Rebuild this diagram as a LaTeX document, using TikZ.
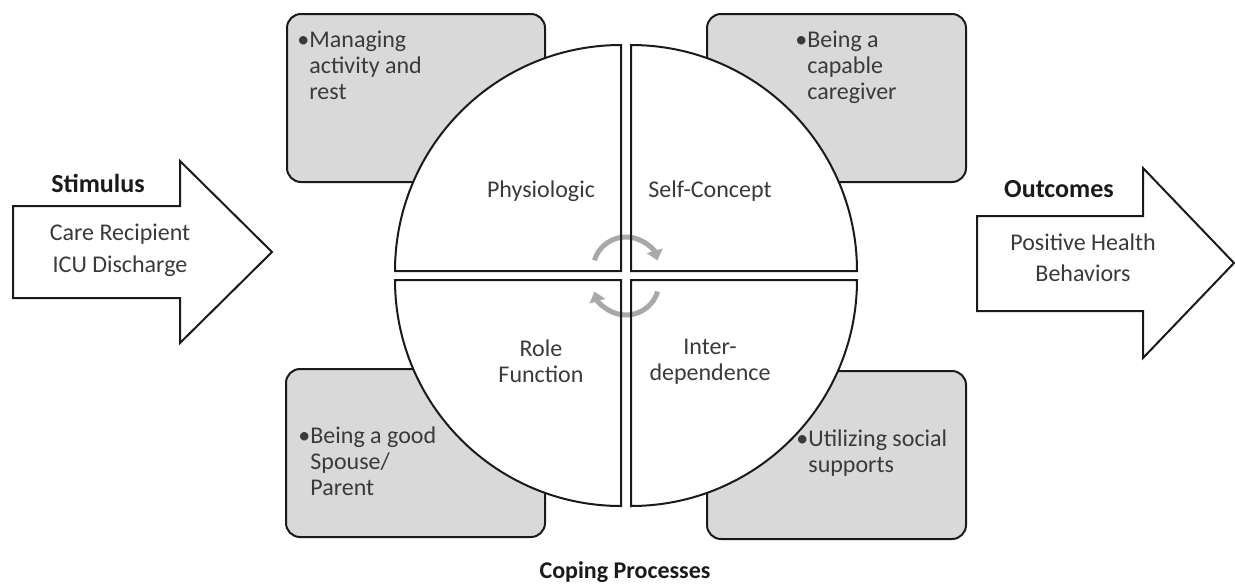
\documentclass[tikz,border=0pt]{standalone}
\usepackage{fontspec}
\setmainfont{Carlito}
\usepackage{tikz}
\usetikzlibrary{arrows.meta}
\usepackage{xcolor}
\definecolor{royInk}{HTML}{1A1A1A}
\definecolor{royText}{HTML}{3A3A3A}
\definecolor{royBox}{HTML}{D9D9D9}
\definecolor{royCycle}{HTML}{A8A8A8}
\newcommand{\bala}{\llap{\textbullet}}

\begin{document}
\begin{tikzpicture}[x=0.5pt, y=-0.5pt,
    caja/.style={draw=royInk, fill=royBox, line width=1pt, rounded corners=7pt},
    modo/.style={text=royText, font=\fontsize{12}{13}\selectfont, inner sep=0pt, align=center},
    punto/.style={text=royText, font=\fontsize{12}{13}\selectfont, inner sep=0pt, align=left, anchor=north west},
    titulo/.style={text=royInk, font=\fontsize{13}{15}\selectfont\bfseries, inner sep=0pt, anchor=base},
    flecha/.style={draw=royInk, fill=white, line width=1pt, line join=miter},
    ciclo/.style={royCycle, line width=2.5pt, -{Triangle[length=5pt, width=8pt]}}]
  \useasboundingbox (0,0) rectangle (1235,584);
  % Cajas grises (quedan detras del circulo)
  \foreach \xa/\ya/\xb/\yb in {287/14/545/182, 707/14/966/182, 286/369/545/537, 707/371/966/539}
    \draw[caja] (\xa,\ya) rectangle (\xb,\yb);
  % Cuadrantes: relleno blanco
  \foreach \cx/\cy/\a in {621/271/180, 631/271/270, 631/280/0, 621/280/90}
    \fill[white] (\cx,\cy) -- ++(\a:226) arc[start angle=\a, end angle=\a+90, radius=226] -- cycle;
  % Flechas del ciclo en el centro
  \draw[ciclo] (626,270) ++(197:33) arc[start angle=197, end angle=343, radius=33];
  \draw[ciclo] (626,282) ++(17:33) arc[start angle=17, end angle=163, radius=33];
  % Cuadrantes: contorno
  \foreach \cx/\cy/\a in {621/271/180, 631/271/270, 631/280/0, 621/280/90}
    \draw[royInk, line width=1pt] (\cx,\cy) -- ++(\a:226) arc[start angle=\a, end angle=\a+90, radius=226] -- cycle;
  % Modos
  \node[modo, anchor=base] (fisio) at (541,197) {Physiologic};
  \node[modo, anchor=base] (auto) at (710,197) {Self-Concept};
  \node[modo, anchor=north] (rol) at (541,339) {Role\\Function};
  \node[modo, anchor=north] (inter) at (710,339) {Inter-\\dependence};
  % Texto de las cajas
  \node[punto] (actividad) at (309,31) {\bala Managing\\activity and\\rest};
  \node[punto] (cuidador) at (807,31) {\bala Being a\\capable\\caregiver};
  \node[punto] (pareja) at (310,426) {\bala Being a good\\Spouse/\\Parent};
  \node[punto] (apoyo) at (808,429) {\bala Utilizing social\\supports};
  % Flecha de entrada
  \draw[flecha] (13,206) -- (180,206) -- (180,161) -- (272,252) -- (180,343) -- (180,298) -- (13,298) -- cycle;
  \node[titulo] (estimulo) at (98,192) {Stimulus};
  \node[modo, anchor=north, font=\fontsize{12}{16}\selectfont] (alta) at (120,224) {Care Recipient\\ICU Discharge};
  % Flecha de salida
  \draw[flecha] (977,216) -- (1143,216) -- (1143,168) -- (1234,263) -- (1143,358) -- (1143,311) -- (977,311) -- cycle;
  \node[titulo] (resultado) at (1059,197) {Outcomes};
  \node[modo, anchor=north, font=\fontsize{12}{15.5}\selectfont] (conducta) at (1083,233) {Positive Health\\Behaviors};
  % Titulo inferior
  \node[titulo, font=\fontsize{12}{14}\selectfont\bfseries] (afront) at (625,578) {Coping Processes};
\end{tikzpicture}
\end{document}
